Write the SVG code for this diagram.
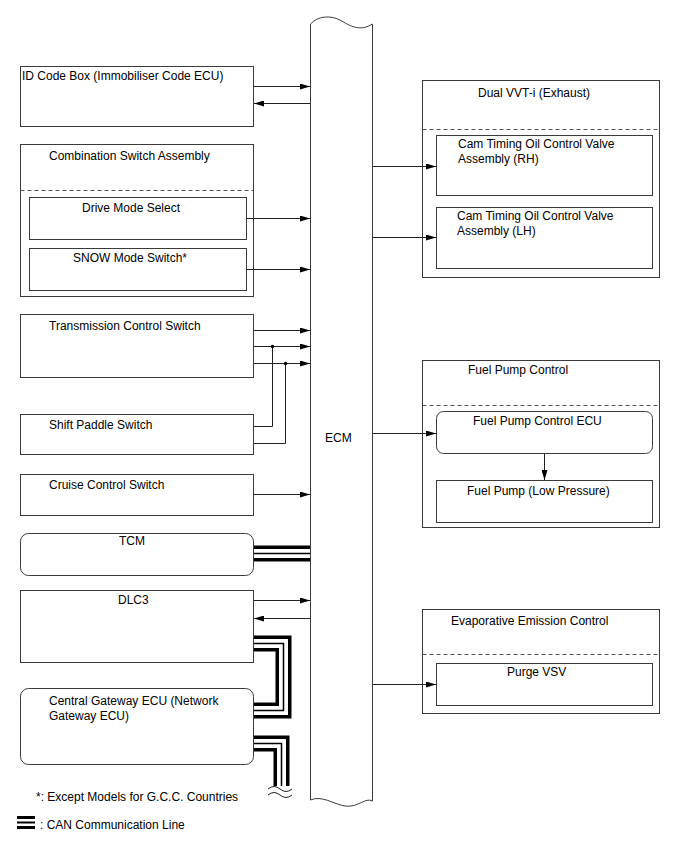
<svg xmlns="http://www.w3.org/2000/svg" width="688" height="852" viewBox="0 0 688 852">
<style>
text{font-family:"Liberation Sans",Arial,sans-serif;font-size:12px;fill:#000}
.b{fill:#fff;stroke:#3a3a3a;stroke-width:1}
.d{fill:none;stroke:#555;stroke-width:1;stroke-dasharray:4 3}
.c{fill:none;stroke:#222;stroke-width:1}
.a{fill:none;stroke:#222;stroke-width:1;marker-end:url(#ah)}
.k1{fill:none;stroke:#000;stroke-width:16;stroke-linejoin:miter}
.k2{fill:none;stroke:#fff;stroke-width:9;stroke-linejoin:miter}
.k3{fill:none;stroke:#000;stroke-width:1.5;stroke-linejoin:miter}
</style>
<defs>
<marker id="ah" markerWidth="10" markerHeight="6" refX="10" refY="3" orient="auto" markerUnits="userSpaceOnUse">
<path d="M0,0 L10,3 L0,6 Z" fill="#000"/>
</marker>
</defs>
<rect width="688" height="852" fill="#fff"/>

<g id="ecm">
<path class="b" d="M310.5,800 V24 C318,16 330,15 340,20 C350,26 360,32 372.5,24 V801 C365,797 358,808 345,806 C333,804 322,795 310.5,800 Z"/>
<text x="325" y="442">ECM</text>
</g>

<g id="id-code-box">
<rect class="b" x="20.5" y="66.5" width="233" height="60"/>
<text x="22" y="80">ID Code Box (Immobiliser Code ECU)</text>
</g>

<g id="combination-switch">
<rect class="b" x="20.5" y="144.5" width="233" height="152"/>
<text x="49" y="160">Combination Switch Assembly</text>
<line class="d" x1="20.5" y1="190.5" x2="253.5" y2="190.5"/>
<g id="drive-mode-select">
<rect class="b" x="29.5" y="197.5" width="217" height="42"/>
<text x="82" y="212">Drive Mode Select</text>
</g>
<g id="snow-mode-switch">
<rect class="b" x="29.5" y="248.5" width="217" height="42"/>
<text x="73" y="262">SNOW Mode Switch*</text>
</g>
</g>

<g id="transmission-control-switch">
<rect class="b" x="20.5" y="314.5" width="233" height="63"/>
<text x="49" y="330">Transmission Control Switch</text>
</g>

<g id="shift-paddle-switch">
<rect class="b" x="20.5" y="414.5" width="233" height="40"/>
<text x="49" y="429">Shift Paddle Switch</text>
</g>

<g id="cruise-control-switch">
<rect class="b" x="20.5" y="474.5" width="233" height="41"/>
<text x="49" y="489">Cruise Control Switch</text>
</g>

<g id="tcm">
<rect class="b" x="20.5" y="533.5" width="233" height="42" rx="8"/>
<text x="119" y="545">TCM</text>
</g>

<g id="dlc3">
<rect class="b" x="20.5" y="590.5" width="233" height="72"/>
<text x="118" y="604">DLC3</text>
</g>

<g id="central-gateway-ecu">
<rect class="b" x="20.5" y="688.5" width="233" height="76" rx="8"/>
<text x="49" y="705">Central Gateway ECU (Network</text>
<text x="49" y="720">Gateway ECU)</text>
</g>

<g id="dual-vvt-i">
<rect class="b" x="422.5" y="80.5" width="237" height="197"/>
<text x="478" y="97">Dual VVT-i (Exhaust)</text>
<line class="d" x1="422.5" y1="129.5" x2="659.5" y2="129.5"/>
<g id="ocv-rh">
<rect class="b" x="436.5" y="135.5" width="216" height="60"/>
<text x="458" y="148">Cam Timing Oil Control Valve</text>
<text x="458" y="163">Assembly (RH)</text>
</g>
<g id="ocv-lh">
<rect class="b" x="436.5" y="207.5" width="216" height="61"/>
<text x="457" y="220">Cam Timing Oil Control Valve</text>
<text x="457" y="235">Assembly (LH)</text>
</g>
</g>

<g id="fuel-pump-control">
<rect class="b" x="422.5" y="360.5" width="237" height="167"/>
<text x="468" y="374">Fuel Pump Control</text>
<line class="d" x1="422.5" y1="405.5" x2="659.5" y2="405.5"/>
<g id="fuel-pump-control-ecu">
<rect class="b" x="436.5" y="411.5" width="216" height="42" rx="7"/>
<text x="473" y="425">Fuel Pump Control ECU</text>
</g>
<g id="fuel-pump">
<rect class="b" x="436.5" y="480.5" width="216" height="42"/>
<text x="467" y="495">Fuel Pump (Low Pressure)</text>
</g>
</g>

<g id="evaporative-emission-control">
<rect class="b" x="422.5" y="609.5" width="237" height="104"/>
<text x="451" y="625">Evaporative Emission Control</text>
<line class="d" x1="422.5" y1="654.5" x2="659.5" y2="654.5"/>
<g id="purge-vsv">
<rect class="b" x="436.5" y="663.5" width="216" height="42"/>
<text x="507" y="676">Purge VSV</text>
</g>
</g>

<g id="connectors">
<line class="a" x1="254" y1="86.5" x2="310" y2="86.5"/>
<line class="a" x1="310" y1="103.5" x2="254" y2="103.5"/>
<line class="a" x1="247" y1="218.5" x2="310" y2="218.5"/>
<line class="a" x1="247" y1="269.5" x2="310" y2="269.5"/>
<line class="a" x1="254" y1="330.5" x2="310" y2="330.5"/>
<line class="a" x1="254" y1="346.5" x2="310" y2="346.5"/>
<line class="a" x1="254" y1="363.5" x2="310" y2="363.5"/>
<path class="c" d="M272.5,346.5 V426.5 H254"/>
<path class="c" d="M285.5,363.5 V443.5 H254"/>
<circle cx="272.5" cy="346.5" r="1.8" fill="#000"/>
<circle cx="285.5" cy="363.5" r="1.8" fill="#000"/>
<line class="a" x1="254" y1="494.5" x2="310" y2="494.5"/>
<line class="a" x1="254" y1="600.5" x2="310" y2="600.5"/>
<line class="a" x1="310" y1="618.5" x2="254" y2="618.5"/>
<line class="a" x1="373" y1="166.5" x2="436" y2="166.5"/>
<line class="a" x1="373" y1="237.5" x2="436" y2="237.5"/>
<line class="a" x1="373" y1="433.5" x2="436" y2="433.5"/>
<line class="a" x1="544.5" y1="454" x2="544.5" y2="480"/>
<line class="a" x1="373" y1="684.5" x2="436" y2="684.5"/>
<g id="can-lines">
<path class="k1" d="M254,553.5 H310"/>
<path class="k2" d="M254,553.5 H310"/>
<path class="k3" d="M254,553.5 H310"/>
<path class="k1" d="M254,643.5 H283.5 V710.5 H254"/>
<path class="k2" d="M254,643.5 H283.5 V710.5 H254"/>
<path class="k3" d="M254,643.5 H283.5 V710.5 H254"/>
<path class="k1" d="M254,743.5 H281.5 V789"/>
<path class="k2" d="M254,743.5 H281.5 V789"/>
<path class="k3" d="M254,743.5 H281.5 V789"/>
<path d="M266,786 H297 V796 H266 Z" fill="#fff"/>
<path class="c" d="M268,789 q6,-5 12,0 t12,0" stroke-width="1.3"/>
<path class="c" d="M268,795 q6,-5 12,0 t12,0" stroke-width="1.3"/>
</g>
</g>

<g id="legend">
<text x="36" y="801">*: Except Models for G.C.C. Countries</text>
<rect x="17" y="816" width="18" height="3" fill="#000"/>
<rect x="17" y="821.5" width="18" height="2" fill="#000"/>
<rect x="17" y="826" width="18" height="3" fill="#000"/>
<text x="40" y="829">: CAN Communication Line</text>
</g>
</svg>
